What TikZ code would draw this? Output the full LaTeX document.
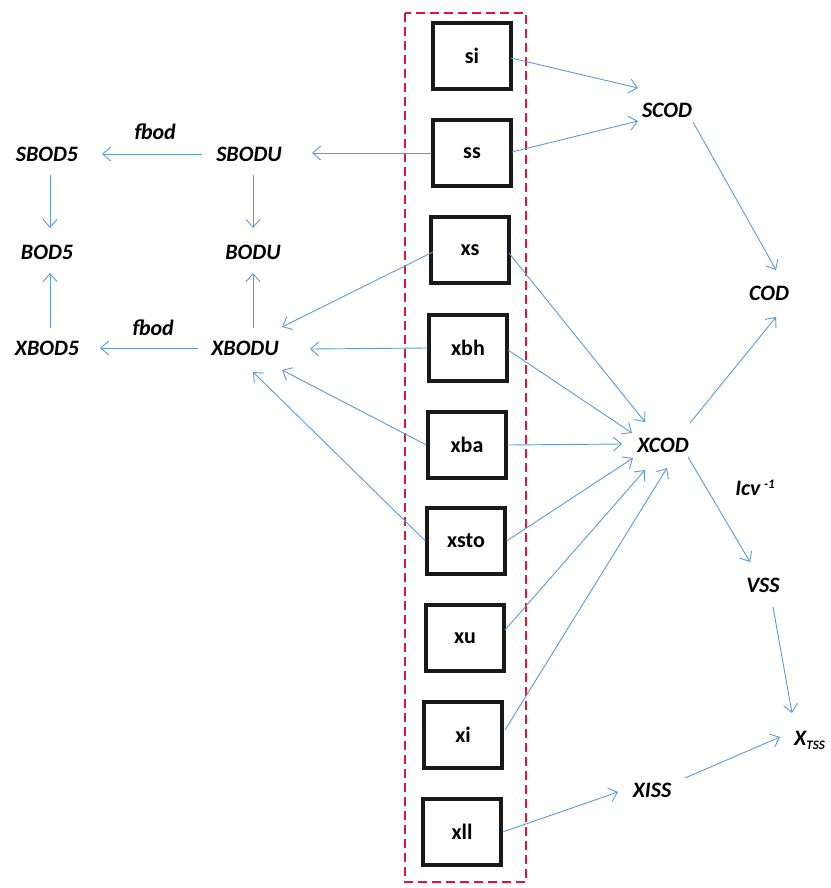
\documentclass[tikz,border=0pt]{standalone}
\usepackage{fontspec}
\setmainfont{Carlito}
\usetikzlibrary{arrows.meta}
\definecolor{arrowblue}{RGB}{91,155,213}
\definecolor{dashred}{RGB}{225,20,55}
\begin{document}
\begin{tikzpicture}[x=1pt,y=-1pt,
  var/.style={font=\fontsize{22}{24}\selectfont\bfseries\itshape, inner sep=0pt},
  statebox/.style={draw=black!90, line width=3.2pt, minimum width=78pt, minimum height=66pt, font=\fontsize{22}{24}\selectfont\bfseries, inner sep=0pt},
  flow/.style={draw=arrowblue, line width=0.9pt, -{Straight Barb[length=8pt,width=14pt]}},
  group/.style={draw=dashred, line width=2.8pt, dash pattern=on 9pt off 5pt}
]
\useasboundingbox (0,0) rectangle (830,888);
\draw[group] (405,13) rectangle (526,882);

% state boxes
\node[statebox] (si)   at (472,56)  {si};
\node[statebox] (ss)   at (472,153) {ss};
\node[statebox] (xs)   at (470,250) {xs};
\node[statebox] (xbh)  at (468,348) {xbh};
\node[statebox] (xba)  at (467,445) {xba};
\node[statebox] (xsto) at (466,541) {xsto};
\node[statebox] (xu)   at (465,638) {xu};
\node[statebox] (xi)   at (463,735) {xi};
\node[statebox] (xll)  at (462,832) {xll};

% variables
\node[var] (SBOD5) at (47,154)  {SBOD5};
\node[var] (SBODU) at (249,154) {SBODU};
\node[var] (fbodA) at (155,132) {fbod};
\node[var] (BOD5)  at (47,252)  {BOD5};
\node[var] (BODU)  at (253,252) {BODU};
\node[var] (XBOD5) at (47,348)  {XBOD5};
\node[var] (XBODU) at (245,348) {XBODU};
\node[var] (fbodB) at (153,328) {fbod};
\node[var] (SCOD)  at (667,110) {SCOD};
\node[var] (COD)   at (769,293) {COD};
\node[var] (XCOD)  at (663,445) {XCOD};
\node[var] (icv)   at (755,488) {Icv\,\raisebox{7pt}{\fontsize{13}{14}\selectfont -1}};
\node[var] (VSS)   at (763,585) {VSS};
\node[var, anchor=west] (XTSS) at (794,740) {X\raisebox{-4pt}{\fontsize{13}{14}\selectfont TSS}};
\node[var] (XISS)  at (652,790) {XISS};

% connectors
\draw[flow] ([shift={(39,2)}]si.center) -- ([shift={(-29,-22)}]SCOD.center);
\draw[flow] ([shift={(40,-1)}]ss.center) -- ([shift={(-29,11)}]SCOD.center);
\draw[flow] (ss.west) -- ([shift={(63,-1)}]SBODU.center);
\draw[flow] ([shift={(-47,0)}]SBODU.center) -- ([shift={(55,0)}]SBOD5.center);
\draw[flow] ([shift={(4,21)}]SBODU.center) -- ([shift={(0,-24)}]BODU.center);
\draw[flow] ([shift={(3,21)}]SBOD5.center) -- ([shift={(3,-24)}]BOD5.center);
\draw[flow] ([shift={(3,-20)}]XBOD5.center) -- ([shift={(3,21)}]BOD5.center);
\draw[flow] ([shift={(8,-20)}]XBODU.center) -- ([shift={(0,21)}]BODU.center);
\draw[flow] ([shift={(-47,0)}]XBODU.center) -- ([shift={(53,0)}]XBOD5.center);
\draw[flow] ([shift={(-37,2)}]xs.center) -- ([shift={(37,-21)}]XBODU.center);
\draw[flow] (xbh.west) -- ([shift={(65,1)}]XBODU.center);
\draw[flow] (xba.west) -- ([shift={(37,22)}]XBODU.center);
\draw[flow] (xsto.west) -- ([shift={(8,24)}]XBODU.center);
\draw[flow] ([shift={(39,3)}]xs.center) -- ([shift={(-18,-23)}]XCOD.center);
\draw[flow] ([shift={(40,2)}]xbh.center) -- ([shift={(-31,-12)}]XCOD.center);
\draw[flow] (xba.east) -- ([shift={(-41,-1)}]XCOD.center);
\draw[flow] (xsto.east) -- ([shift={(-30,13)}]XCOD.center);
\draw[flow] ([shift={(40,-8)}]xu.center) -- ([shift={(-18,25)}]XCOD.center);
\draw[flow] ([shift={(42,-5)}]xi.center) -- ([shift={(4,23)}]XCOD.center);
\draw[flow] ([shift={(27,-22)}]XCOD.center) -- ([shift={(7,24)}]COD.center);
\draw[flow] ([shift={(26,12)}]SCOD.center) -- ([shift={(7,-23)}]COD.center);
\draw[flow] ([shift={(25,12)}]XCOD.center) -- ([shift={(-13,-23)}]VSS.center);
\draw[flow] ([shift={(10,22)}]VSS.center) -- ([shift={(-2,-27)}]XTSS.west);
\draw[flow] (xll.east) -- ([shift={(-34,2)}]XISS.center);
\draw[flow] ([shift={(33,-12)}]XISS.center) -- ([shift={(-14,-3)}]XTSS.west);
\end{tikzpicture}
\end{document}
